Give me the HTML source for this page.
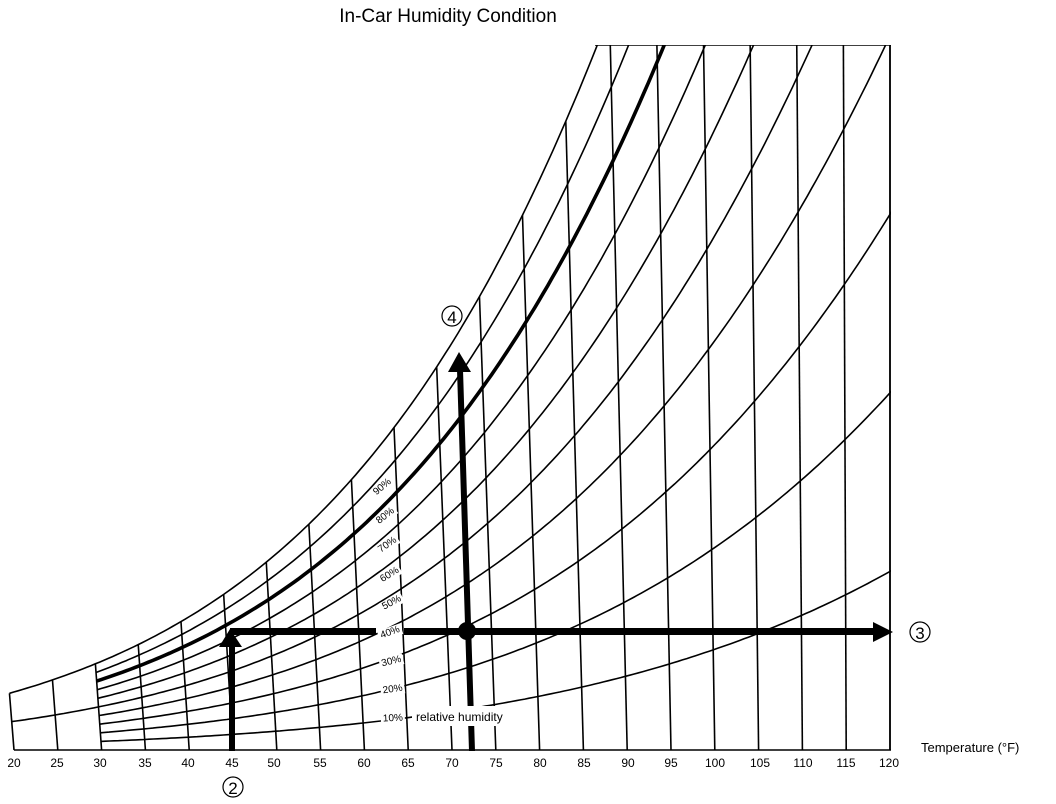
<!DOCTYPE html>
<html><head><meta charset="utf-8"><style>
html,body{margin:0;padding:0;background:#fff;}
svg{display:block;font-family:"Liberation Sans",Arial,sans-serif;}
</style></head><body>
<svg id="s" width="1056" height="804" viewBox="0 0 1056 804" xmlns="http://www.w3.org/2000/svg">
<defs><clipPath id="c"><rect x="0" y="45" width="891" height="706"/></clipPath></defs>
<g id="grid" clip-path="url(#c)" fill="none" stroke="#000" stroke-width="1.6"></g>
<text x="448" y="22" font-size="19" text-anchor="middle">In-Car Humidity Condition</text>
<g font-size="12" text-anchor="middle">
<text x="14" y="767">20</text><text x="57" y="767">25</text><text x="100" y="767">30</text><text x="145" y="767">35</text><text x="188" y="767">40</text><text x="232" y="767">45</text><text x="274" y="767">50</text><text x="320" y="767">55</text><text x="364" y="767">60</text><text x="408" y="767">65</text><text x="452" y="767">70</text><text x="496" y="767">75</text><text x="540" y="767">80</text><text x="584" y="767">85</text><text x="628" y="767">90</text><text x="671" y="767">95</text><text x="715" y="767">100</text><text x="760" y="767">105</text><text x="803" y="767">110</text><text x="846" y="767">115</text><text x="889" y="767">120</text>
</g>
<text x="921" y="752" font-size="13">Temperature (°F)</text>
<g font-size="10">
<g transform="translate(384,489) rotate(-40)"><rect x="-12" y="-8" width="24" height="11" fill="#fff"/><text text-anchor="middle">90%</text></g>
<g transform="translate(387,518) rotate(-38)"><rect x="-12" y="-8" width="24" height="11" fill="#fff"/><text text-anchor="middle">80%</text></g>
<g transform="translate(389,547) rotate(-35)"><rect x="-12" y="-8" width="24" height="11" fill="#fff"/><text text-anchor="middle">70%</text></g>
<g transform="translate(391,577) rotate(-32)"><rect x="-12" y="-8" width="24" height="11" fill="#fff"/><text text-anchor="middle">60%</text></g>
<g transform="translate(393,605) rotate(-28)"><rect x="-12" y="-8" width="24" height="11" fill="#fff"/><text text-anchor="middle">50%</text></g>
<g transform="translate(391,635) rotate(-20)"><rect x="-12" y="-8" width="24" height="11" fill="#fff"/><text text-anchor="middle">40%</text></g>
<g transform="translate(392,664) rotate(-14)"><rect x="-12" y="-8" width="24" height="11" fill="#fff"/><text text-anchor="middle">30%</text></g>
<g transform="translate(393,692) rotate(-8)"><rect x="-12" y="-8" width="24" height="11" fill="#fff"/><text text-anchor="middle">20%</text></g>
<g transform="translate(393,721) rotate(-3)"><rect x="-12" y="-8" width="24" height="11" fill="#fff"/><text text-anchor="middle">10%</text></g>
</g>
<g fill="#000" stroke="none">
<rect x="229" y="645" width="6" height="106"/>
<polygon points="230,629 219,647 242,647"/>
<rect x="230" y="628" width="146" height="7"/>
<rect x="404" y="628" width="472" height="7"/>
<polygon points="893,632 873,622 873,642"/>
<polygon points="469,751 475,751 463,370 457,370"/>
<polygon points="459,352 448,372 471,372"/>
<circle cx="467" cy="631" r="9"/>
</g>
<rect x="412" y="706" width="108" height="20" fill="#fff"/>
<text x="416" y="721" font-size="12">relative humidity</text>
<g text-anchor="middle">
<circle cx="233" cy="787" r="10" fill="none" stroke="#000" stroke-width="1.2"/><text x="233" y="794" font-size="17">2</text>
<circle cx="920" cy="632" r="10" fill="none" stroke="#000" stroke-width="1.2"/><text x="920" y="639" font-size="17">3</text>
<circle cx="452" cy="316" r="10" fill="none" stroke="#000" stroke-width="1.2"/><text x="452" y="323" font-size="17">4</text>
</g>
</svg>
<script>
(function(){
var g=document.getElementById('grid');
function xb(T){return 14+(T-20)*8.76;}
function s(T){return 0.0008*(120-T);}
function es(T){var c=(T-32)/1.8;return 6.1078*Math.exp(17.27*c/(c+237.3));}
function hs(T){return 15.3*es(T);}
function P(T,h){return [xb(T)-s(T)*h,750-h];}
function add(d,w){var p=document.createElementNS('http://www.w3.org/2000/svg','path');p.setAttribute('d',d);if(w)p.setAttribute('stroke-width',w);g.insertBefore(p,g.firstChild);}
for(var T=20;T<=120;T+=5){var h=Math.min(hs(T),705);var a=P(T,0),b=P(T,h);add('M'+a[0]+' '+a[1]+'L'+b[0]+' '+b[1]);}
function curve(r,T0,T1,w){var d='';for(var T=T0;T<=T1+1e-6;T+=0.5){var q=P(T,r*hs(T));d+=(d?'L':'M')+q[0].toFixed(1)+' '+q[1].toFixed(1);}add(d,w);}
curve(1,20,100);
for(var r=1;r<=9;r++){ if(r==5) curve(0.5,20,125); else if(r==8) curve(0.8,30,125,3.6); else curve(r/10,30,125);}
add('M14 750L891 750');add('M595 45L891 45');add('M890 45L890 750');
})();
</script>
</body></html>
